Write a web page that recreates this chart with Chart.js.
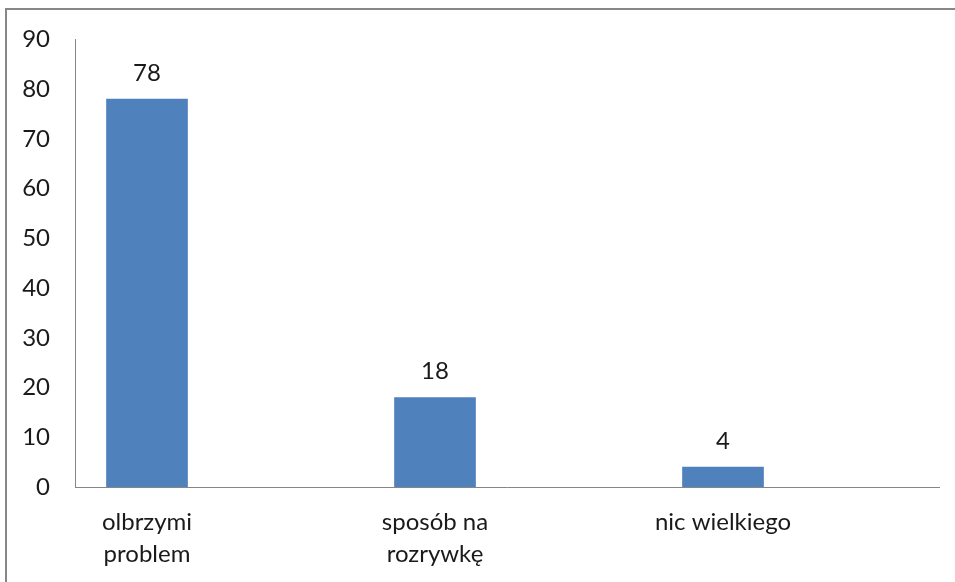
<!DOCTYPE html>
<html>
<head>
<meta charset="utf-8">
<script src="https://cdn.jsdelivr.net/npm/chart.js@4/dist/chart.umd.min.js"></script>
<style>
    html, body { margin: 0; padding: 0; background: #fff; overflow: hidden; }
    #wrap { position: relative; width: 955px; height: 582px; }
    #chart { position: absolute; left: 0; top: 0; }
    #frame {
        position: absolute; left: 5px; top: 8px; width: 1000px; height: 1000px;
        border: 2px solid #878787; pointer-events: none;
    }
</style>
</head>
<body>
<div id="wrap">
    <div id="frame"></div>
    <canvas id="chart" width="955" height="582"></canvas>
</div>
<script>
const categories = [['olbrzymi', 'problem'], ['sposób na', 'rozrywkę'], ['nic wielkiego']];
const values = [78, 18, 4];
const yTicks = [0, 10, 20, 30, 40, 50, 60, 70, 80, 90];

const barColor = '#4f81bd';
const axisColor = '#868686';
const textColor = '#1a1a1a';
const fontFamily = 'Lato, "Open Sans", sans-serif';
const fontSize = 24;

// draws the value above every bar
const valueLabels = {
    id: 'valueLabels',
    afterDatasetsDraw(chart) {
        const ctx = chart.ctx;
        const meta = chart.getDatasetMeta(0);
        ctx.save();
        ctx.font = `${fontSize}px ${fontFamily}`;
        ctx.fillStyle = textColor;
        ctx.textAlign = 'center';
        ctx.textBaseline = 'alphabetic';
        meta.data.forEach((bar, i) => {
            ctx.fillText(String(values[i]), bar.x, bar.y - 18);
        });
        ctx.restore();
    }
};

const config = {
    type: 'bar',
    data: {
        datasets: [{
            data: values.map((v, i) => ({ x: i, y: v })),
            backgroundColor: barColor,
            borderWidth: 0,
            barThickness: 81,
        }]
    },
    options: {
        responsive: false,
        animation: false,
        layout: {
            padding: { top: 39, right: 16, bottom: 0, left: 0 },
        },
        plugins: {
            legend: { display: false },
            tooltip: { enabled: false },
        },
        scales: {
            x: {
                type: 'linear',
                min: -0.25,
                max: 2.75,
                offset: false,
                afterFit: (scale) => { scale.height = 95; },
                afterBuildTicks: (scale) => {
                    scale.ticks = categories.map((_, i) => ({ value: i }));
                },
                ticks: {
                    autoSkip: false,
                    maxRotation: 0,
                    padding: 20,
                    color: textColor,
                    font: { family: fontFamily, size: fontSize, lineHeight: 1.3 },
                    callback: (v) => categories[v] || '',
                },
                grid: { display: false, drawTicks: false },
                border: { display: true, color: axisColor, width: 1 },
            },
            y: {
                min: 0,
                max: 90,
                afterFit: (scale) => { scale.width = 75; },
                afterBuildTicks: (scale) => {
                    scale.ticks = yTicks.map(v => ({ value: v }));
                },
                ticks: {
                    padding: 25,
                    color: textColor,
                    font: { family: fontFamily, size: fontSize },
                },
                grid: { display: false, drawTicks: false },
                border: { display: true, color: axisColor, width: 1 },
            },
        },
    },
    plugins: [valueLabels],
};

new Chart(document.getElementById('chart').getContext('2d'), config);
</script>
</body>
</html>
